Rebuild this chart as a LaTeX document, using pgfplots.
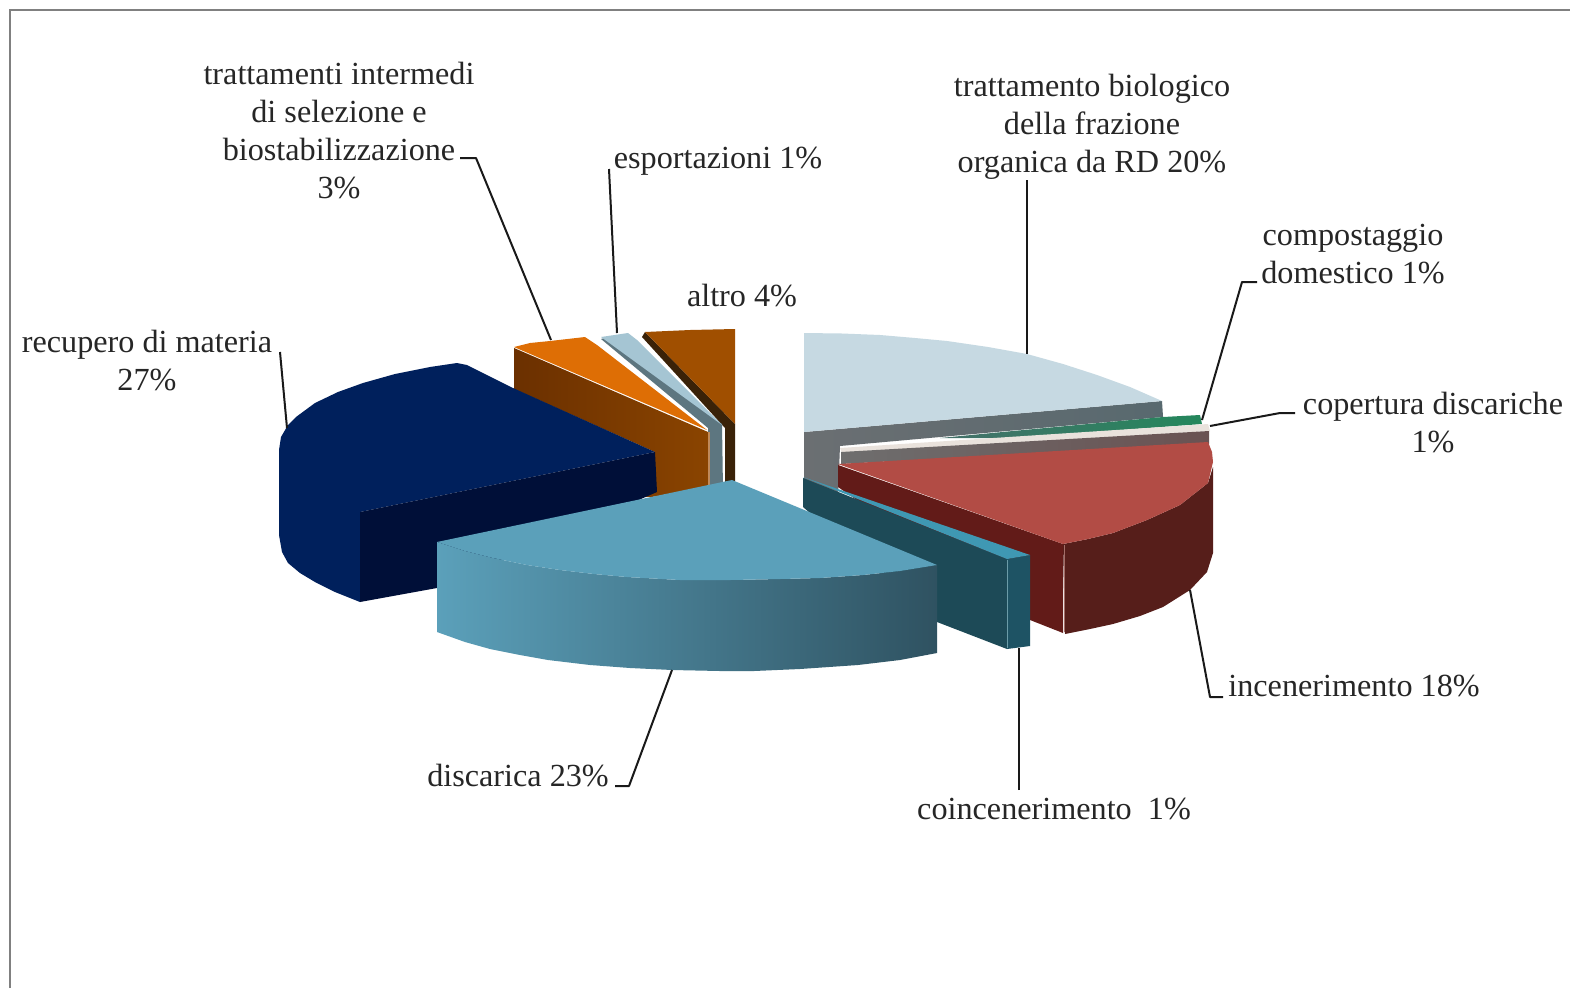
\documentclass[border=0pt]{standalone}
\usepackage{pgfplots}
\pgfplotsset{compat=1.18}
\usepackage{fontspec}
\setmainfont{Liberation Serif}
\definecolor{txt}{HTML}{262626}
\definecolor{sideA}{HTML}{6B6F72}
\definecolor{sideB}{HTML}{58696F}
\definecolor{lightb}{HTML}{C6D9E2}
\definecolor{green1}{HTML}{45706A}
\definecolor{green2}{HTML}{24875C}
\definecolor{pale}{HTML}{E9E2DC}
\definecolor{gray1}{HTML}{6E6E6E}
\definecolor{gray2}{HTML}{6A5252}
\definecolor{red1}{HTML}{B24C45}
\definecolor{red2}{HTML}{621B18}
\definecolor{red3}{HTML}{561E1A}
\definecolor{red4}{HTML}{A46E68}
\definecolor{teal1}{HTML}{3F98B3}
\definecolor{teal2}{HTML}{1D4A57}
\definecolor{teal3}{HTML}{1E5364}
\definecolor{teal4}{HTML}{6C9CA8}
\definecolor{brownd}{HTML}{3A2208}
\definecolor{brownt}{HTML}{A04F00}
\definecolor{slate}{HTML}{5D7680}
\definecolor{lightb2}{HTML}{A5C5D3}
\definecolor{or1}{HTML}{DE6E05}
\definecolor{or2}{HTML}{6B3000}
\definecolor{or3}{HTML}{8A4400}
\definecolor{or4}{HTML}{C08A5A}
\definecolor{navy1}{HTML}{00205C}
\definecolor{navy2}{HTML}{000F38}
\definecolor{disc1}{HTML}{5BA0BA}
\definecolor{disc2}{HTML}{4E8DA5}
\definecolor{disc3}{HTML}{2F5261}
\tikzset{lab/.style={align=center,inner sep=0pt,text=txt,font=\fontsize{32.2}{38}\selectfont},
 lead/.style={draw=black!90,line width=2pt,line join=round},
 pg/.style={draw=none}}
\begin{document}
\begin{tikzpicture}
\begin{axis}[width=1570pt,height=988pt,scale only axis,xmin=0,xmax=1570,ymin=0,ymax=988,y dir=reverse,axis lines=none,clip=true]
% page
\addplot[fill=white,draw=none] coordinates {(0,0)(1570,0)(1570,988)(0,988)} --cycle;
\addplot[draw=black!50,line width=2.5pt] coordinates {(10,988)(10,10)(1570,10)};
% trattamento biologico
\addplot[pg,left color=sideA,right color=sideB] coordinates {(804,432)(1162,401)(1163,417)(840,446)(838,495)(804,482)} --cycle;
\addplot[fill=lightb,draw=none] coordinates {(804,333)(842,333.5)(880,335)(915,338)(947,341)(988,347)(1027,354)(1063,364)(1097,375)(1130,387)(1162,401)(804,432)} --cycle;
% compostaggio
\addplot[pg,left color=green1,right color=green2] coordinates {(940,438)(1013,431)(1163,417)(1200,415)(1202,424)(1013,438)} --cycle;
% copertura
\addplot[fill=pale,draw=none] coordinates {(840,448)(1208,424)(1210,431)(842,453)} --cycle;
\addplot[pg,left color=gray1,right color=gray2] coordinates {(841,452)(1209,431)(1209,444)(841,464)} --cycle;
% incenerimento
\addplot[fill=red2,draw=none] coordinates {(838,465)(1063,544)(1063,633)(1030,620)(838,487)} --cycle;
\addplot[fill=red3,draw=none] coordinates {(1063,544)(1088,539)(1113,533)(1147,520)(1180,505)(1208,483)(1213,467)(1213,553)(1207,572)(1190,590)(1163,607)(1140,616)(1113,624)(1090,629)(1065,634)} --cycle;
\addplot[fill=red1,draw=none] coordinates {(838,464)(1208,442)(1212,452)(1213,462)(1208,483)(1180,505)(1147,520)(1113,533)(1088,539)(1063,544)} --cycle;
\addplot[draw=red4,line width=1pt] coordinates {(1064,545)(1064,632)};
% coincenerimento
\addplot[fill=teal2,draw=none] coordinates {(803,478)(1007,559)(1007,649)(937,622)(803,507)} --cycle;
\addplot[fill=teal3,draw=none] coordinates {(1007,559)(1030,555)(1030,646)(1007,649)} --cycle;
\addplot[fill=teal1,draw=none] coordinates {(803,477)(1030,555)(1007,559)} --cycle;
\addplot[draw=teal4,line width=1pt] coordinates {(1007,560)(1007,648)};
% altro
\addplot[fill=brownd,draw=none] coordinates {(642,337)(645,332)(735,424)(735,481)(725,484)(725,428)} --cycle;
\addplot[fill=brownt,draw=none] coordinates {(645,332)(690,330)(735,329)(735,424)} --cycle;
% esportazioni
\addplot[fill=slate,draw=none] coordinates {(601,339)(608,337)(722,424)(723,490)(710,490)(708,428)} --cycle;
\addplot[fill=lightb2,draw=none] coordinates {(601,337)(628,333)(637,340)(722,425)} --cycle;
% trattamenti intermedi
\addplot[pg,left color=or2,right color=or3] coordinates {(514,348)(708,432)(708,495)(645,497)(655,452)(514,389)} --cycle;
\addplot[fill=or1,draw=none] coordinates {(514,347)(530,343)(550,341)(585,337)(597,345)(707,430)} --cycle;
\addplot[draw=or4,line width=1.2pt] coordinates {(709,432)(709,488)};
% recupero di materia
\addplot[fill=navy1,draw=none] coordinates {(457,363)(467,365)(513,388)(655,452)(360,512)(360,602)(335,592)(315,582)(300,573)(288,563)(282,552)(279,535)(279,450)(281,437)(288,425)(296,417)(315,403)(338,392)(363,383)(395,374)(430,367)} --cycle;
\addplot[fill=navy2,draw=none] coordinates {(360,512)(655,452)(657,492)(437,588)(360,602)} --cycle;
% discarica
\addplot[pg,left color=disc1,middle color=disc2,right color=disc3] coordinates {(437,542)(465,551)(493,558)(527,565)(560,570)(594,574)(627,577)(680,580)(730,580)(780,579)(820,578)(863,575)(900,571)(937,565)(937,653)(900,660)(858,665)(800,669)(754,671)(720,671)(672,670)(630,668)(590,665)(548,660)(520,655)(490,649)(465,642)(437,632)} --cycle;
\addplot[fill=disc1,draw=none] coordinates {(732,480)(937,565)(900,571)(863,575)(820,578)(780,579)(730,580)(680,580)(627,577)(594,574)(560,570)(527,565)(493,558)(465,551)(437,542)} --cycle;
% leaders
\addplot[lead] coordinates {(460,158)(476,158)(551,340)};
\addplot[lead] coordinates {(609,169)(617,333)};
\addplot[lead] coordinates {(1027,180)(1027,354)};
\addplot[lead] coordinates {(1257,282)(1242,282)(1202,420)};
\addplot[lead] coordinates {(1295,413)(1280,413)(1210,426)};
\addplot[lead] coordinates {(1223,697)(1210,697)(1190,590)};
\addplot[lead] coordinates {(1019,790)(1019,648)};
\addplot[lead] coordinates {(615,786)(629,786)(672,670)};
\addplot[lead] coordinates {(280,352)(287,428)};
% labels
\node[lab] at (axis cs:339,131) {trattamenti intermedi\\di selezione e\\biostabilizzazione\\3\%};
\node[lab] at (axis cs:1092,127) {trattamento biologico\\della frazione\\organica da RD 20\%};
\node[lab] at (axis cs:718,161) {esportazioni 1\%};
\node[lab] at (axis cs:742,296) {altro 4\%};
\node[lab] at (axis cs:1353,254) {compostaggio\\domestico 1\%};
\node[lab] at (axis cs:1433,423) {copertura discariche\\1\%};
\node[lab] at (axis cs:147,361) {recupero di materia\\27\%};
\node[lab] at (axis cs:1354,686) {incenerimento 18\%};
\node[lab] at (axis cs:518,776) {discarica 23\%};
\node[lab] at (axis cs:1054,809) {coincenerimento \ 1\%};
\end{axis}
\end{tikzpicture}
\end{document}
